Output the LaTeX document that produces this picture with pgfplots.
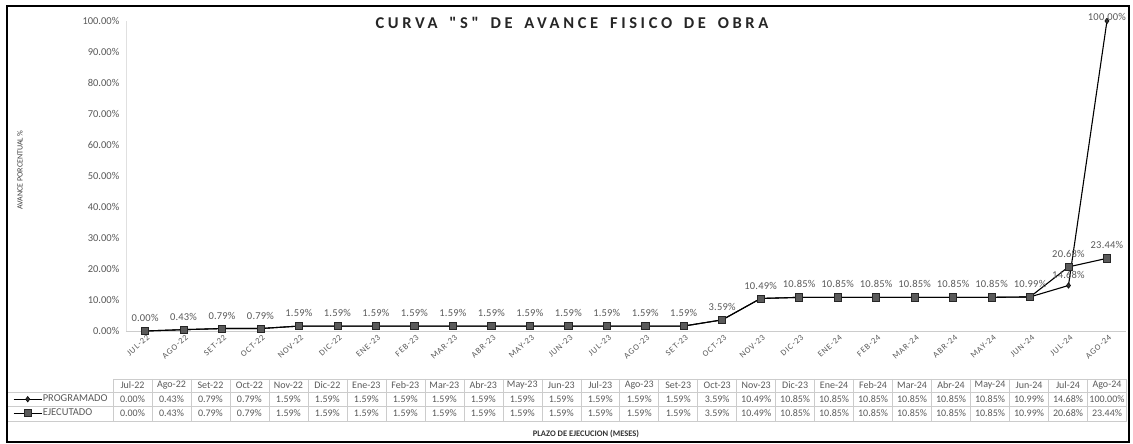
\documentclass[border=0pt]{standalone}
\usepackage{pgfplots}
\pgfplotsset{compat=1.18}
\usepackage{pgfplotstable}
\usepackage{fontspec}
\setmainfont{Carlito}
\newfontfamily\titlefont[LetterSpace=22, WordSpace=1.6]{Carlito}
\newfontfamily\capfont[LetterSpace=10]{Carlito}
\newfontfamily\lblfont[LetterSpace=2]{Carlito}
\definecolor{txt}{HTML}{595959}
\definecolor{mk}{HTML}{5A5A5A}
\pgfplotsset{/pgf/number format/assume math mode=true}

\pgfplotstableread{
x month MON prog ejec
0 Jul-22 JUL-22 0.00 0.00
1 Ago-22 AGO-22 0.43 0.43
2 Set-22 SET-22 0.79 0.79
3 Oct-22 OCT-22 0.79 0.79
4 Nov-22 NOV-22 1.59 1.59
5 Dic-22 DIC-22 1.59 1.59
6 Ene-23 ENE-23 1.59 1.59
7 Feb-23 FEB-23 1.59 1.59
8 Mar-23 MAR-23 1.59 1.59
9 Abr-23 ABR-23 1.59 1.59
10 May-23 MAY-23 1.59 1.59
11 Jun-23 JUN-23 1.59 1.59
12 Jul-23 JUL-23 1.59 1.59
13 Ago-23 AGO-23 1.59 1.59
14 Set-23 SET-23 1.59 1.59
15 Oct-23 OCT-23 3.59 3.59
16 Nov-23 NOV-23 10.49 10.49
17 Dic-23 DIC-23 10.85 10.85
18 Ene-24 ENE-24 10.85 10.85
19 Feb-24 FEB-24 10.85 10.85
20 Mar-24 MAR-24 10.85 10.85
21 Abr-24 ABR-24 10.85 10.85
22 May-24 MAY-24 10.85 10.85
23 Jun-24 JUN-24 10.99 10.99
24 Jul-24 JUL-24 14.68 20.68
25 Ago-24 AGO-24 100.00 23.44
}\datatable

\begin{document}
\begin{tikzpicture}
\useasboundingbox (0pt,0pt) rectangle (1133pt,444pt);
\begin{axis}[
  at={(125.8pt,113pt)}, anchor=south west,
  scale only axis, width=1000.4pt, height=310pt,
  xmin=-0.5, xmax=25.5, ymin=0, ymax=100,
  clip=false,
  axis line style={draw=none},
  xtick={0,...,25}, xticklabels from table={\datatable}{MON},
  ytick={0,10,...,100},
  yticklabel={\pgfmathprintnumber[fixed,fixed zerofill,precision=2]{\tick}\%},
  xtick pos=lower, ytick pos=left,
  major tick length=0pt,
  xticklabel style={rotate=42, anchor=north east, font=\capfont\fontsize{8.5}{9}\selectfont, text=txt, yshift=-2pt, inner sep=1pt},
  yticklabel style={font=\fontsize{10.5}{12}\selectfont, text=txt, xshift=-3pt},
  title={CURVA "S" DE AVANCE FISICO DE OBRA},
  title style={at={(axis description cs:0.446,0.974)}, anchor=center, font=\titlefont\bfseries\fontsize{16.5}{18}\selectfont, text=black!85},
  ylabel={AVANCE PORCENTUAL \%},
  ylabel style={at={(axis description cs:-0.1058,0.519)}, anchor=center, font=\fontsize{8}{9}\selectfont, text=black!75},
  xlabel={PLAZO DE EJECUCION (MESES)},
  xlabel style={at={(axis description cs:0.46,-0.332)}, anchor=center, font=\bfseries\fontsize{8.5}{10}\selectfont, text=black!80},
  legend style={at={(axis description cs:-0.1128,-0.19677)}, anchor=north west, draw=none, fill=none,
    font=\fontsize{10.5}{12}\selectfont, text=txt, inner sep=0pt, row sep=0pt,
    nodes={inner sep=0.5pt, minimum height=14pt}},
  legend cell align=left,
  legend image code/.code={\draw[mark repeat=2,mark phase=2,#1] plot coordinates {(0pt,0pt) (14pt,0pt) (28pt,0pt)};},
  every node near coord/.append style={font=\lblfont\fontsize{10.5}{12}\selectfont, text=txt, inner sep=1pt},
]
\draw[black!20, line width=0.6pt] (rel axis cs:0,0) -- (rel axis cs:1,0);
\draw[black!12, line width=0.5pt] (rel axis cs:0,0) -- (rel axis cs:0,1);
\addplot[black, line width=1.1pt, mark=diamond*, mark size=2.8pt, mark options={fill=black!80, draw=black, line width=0.5pt}]
  table[x=x, y=prog]{\datatable};
\addlegendentry{PROGRAMADO}
\addplot[black, line width=1.1pt, mark=square*, mark size=3.6pt, mark options={fill=mk, draw=black!85, line width=0.6pt},
  nodes near coords={\pgfmathprintnumber[fixed,fixed zerofill,precision=2]{\pgfplotspointmeta}\%},
  every node near coord/.append style={anchor=south, yshift=8pt}]
  table[x=x, y=ejec]{\datatable};
\addlegendentry{EJECUTADO}
\addplot[draw=none, mark=none, forget plot,
  nodes near coords={\pgfmathprintnumber[fixed,fixed zerofill,precision=2]{\pgfplotspointmeta}\%},
  every node near coord/.append style={anchor=south, yshift=6pt}]
  coordinates {(24,14.68)};
\addplot[draw=none, mark=none, forget plot,
  nodes near coords={\pgfmathprintnumber[fixed,fixed zerofill,precision=2]{\pgfplotspointmeta}\%},
  every node near coord/.append style={anchor=center, yshift=4pt}]
  coordinates {(25,100.00)};
\end{axis}

\begin{axis}[
  at={(113pt,113pt)}, anchor=south west,
  scale only axis, width=1013.5pt, height=310pt,
  xmin=-0.5, xmax=25.5, ymin=0, ymax=100,
  hide axis, clip=false,
  every node near coord/.append style={anchor=center, font=\fontsize{10}{11}\selectfont, text=txt, inner sep=0.5pt},
]
\addplot[draw=none, mark=none, nodes near coords, point meta=explicit symbolic,
  every node near coord/.append style={yshift=-54.5pt}]
  table[x=x, y expr=0, meta=month]{\datatable};
\addplot[draw=none, mark=none, point meta=explicit,
  nodes near coords={\pgfmathprintnumber[fixed,fixed zerofill,precision=2]{\pgfplotspointmeta}\%},
  every node near coord/.append style={yshift=-68pt}]
  table[x=x, y expr=0, meta=prog]{\datatable};
\addplot[draw=none, mark=none, point meta=explicit,
  nodes near coords={\pgfmathprintnumber[fixed,fixed zerofill,precision=2]{\pgfplotspointmeta}\%},
  every node near coord/.append style={yshift=-82.5pt}]
  table[x=x, y expr=0, meta=ejec]{\datatable};
\end{axis}

\foreach \k in {0,...,26} {
  \draw[black!20, line width=0.5pt] ({(113+\k*38.98)*1pt},65pt) -- ({(113+\k*38.98)*1pt},23pt);
}
\draw[black!20, line width=0.5pt] (113pt,65pt) -- (1126.5pt,65pt);
\draw[black!20, line width=0.5pt] (7pt,52pt) -- (1126.5pt,52pt);
\draw[black!20, line width=0.5pt] (7pt,38pt) -- (1126.5pt,38pt);
\draw[black!20, line width=0.5pt] (7pt,23pt) -- (1126.5pt,23pt);
\draw[black, line width=1.3pt] (7pt,2pt) rectangle (1129pt,438pt);
\end{tikzpicture}
\end{document}
